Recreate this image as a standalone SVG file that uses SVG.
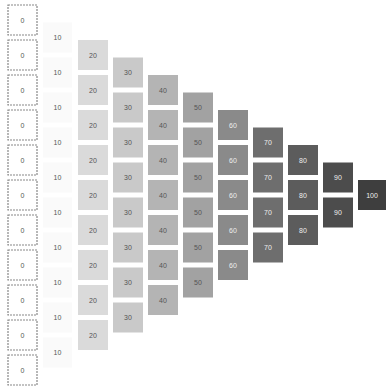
<svg xmlns="http://www.w3.org/2000/svg" width="386" height="390" viewBox="0 0 386 390">
<style>
.b{stroke:none}
.c0{fill:#fff;stroke:#888;stroke-width:1.2;stroke-dasharray:2 1}
.c1{fill:#fafafa}
.c2{fill:#dadada}
.c3{fill:#c9c9c9}
.c4{fill:#b4b4b4}
.c5{fill:#a2a2a2}
.c6{fill:#8a8a8a}
.c7{fill:#6e6e6e}
.c8{fill:#5c5c5c}
.c9{fill:#4c4c4c}
.c10{fill:#3e3e3e}
text{font-family:"Liberation Sans",Arial,sans-serif;font-size:7px;text-anchor:middle;dominant-baseline:central}
.d{fill:#555}
.l{fill:#eee}
</style>
<rect width="386" height="390" fill="#fff"/>
<g id="connectors"></g>
<g id="col0">
<g id="n0_0"><rect class="c0" x="8" y="5" width="29" height="30"/><text class="d" x="22.5" y="20">0</text></g>
<g id="n0_1"><rect class="c0" x="8" y="40" width="29" height="30"/><text class="d" x="22.5" y="55">0</text></g>
<g id="n0_2"><rect class="c0" x="8" y="75" width="29" height="30"/><text class="d" x="22.5" y="90">0</text></g>
<g id="n0_3"><rect class="c0" x="8" y="110" width="29" height="30"/><text class="d" x="22.5" y="125">0</text></g>
<g id="n0_4"><rect class="c0" x="8" y="145" width="29" height="30"/><text class="d" x="22.5" y="160">0</text></g>
<g id="n0_5"><rect class="c0" x="8" y="180" width="29" height="30"/><text class="d" x="22.5" y="195">0</text></g>
<g id="n0_6"><rect class="c0" x="8" y="215" width="29" height="30"/><text class="d" x="22.5" y="230">0</text></g>
<g id="n0_7"><rect class="c0" x="8" y="250" width="29" height="30"/><text class="d" x="22.5" y="265">0</text></g>
<g id="n0_8"><rect class="c0" x="8" y="285" width="29" height="30"/><text class="d" x="22.5" y="300">0</text></g>
<g id="n0_9"><rect class="c0" x="8" y="320" width="29" height="30"/><text class="d" x="22.5" y="335">0</text></g>
<g id="n0_10"><rect class="c0" x="8" y="355" width="29" height="30"/><text class="d" x="22.5" y="370">0</text></g>
</g>
<g id="col1">
<g id="n1_0"><rect class="c1" x="43" y="22.5" width="29" height="30"/><text class="d" x="57.5" y="37.5">10</text></g>
<g id="n1_1"><rect class="c1" x="43" y="57.5" width="29" height="30"/><text class="d" x="57.5" y="72.5">10</text></g>
<g id="n1_2"><rect class="c1" x="43" y="92.5" width="29" height="30"/><text class="d" x="57.5" y="107.5">10</text></g>
<g id="n1_3"><rect class="c1" x="43" y="127.5" width="29" height="30"/><text class="d" x="57.5" y="142.5">10</text></g>
<g id="n1_4"><rect class="c1" x="43" y="162.5" width="29" height="30"/><text class="d" x="57.5" y="177.5">10</text></g>
<g id="n1_5"><rect class="c1" x="43" y="197.5" width="29" height="30"/><text class="d" x="57.5" y="212.5">10</text></g>
<g id="n1_6"><rect class="c1" x="43" y="232.5" width="29" height="30"/><text class="d" x="57.5" y="247.5">10</text></g>
<g id="n1_7"><rect class="c1" x="43" y="267.5" width="29" height="30"/><text class="d" x="57.5" y="282.5">10</text></g>
<g id="n1_8"><rect class="c1" x="43" y="302.5" width="29" height="30"/><text class="d" x="57.5" y="317.5">10</text></g>
<g id="n1_9"><rect class="c1" x="43" y="337.5" width="29" height="30"/><text class="d" x="57.5" y="352.5">10</text></g>
</g>
<g id="col2">
<g id="n2_0"><rect class="c2" x="78" y="40" width="30" height="30"/><text class="d" x="93" y="55">20</text></g>
<g id="n2_1"><rect class="c2" x="78" y="75" width="30" height="30"/><text class="d" x="93" y="90">20</text></g>
<g id="n2_2"><rect class="c2" x="78" y="110" width="30" height="30"/><text class="d" x="93" y="125">20</text></g>
<g id="n2_3"><rect class="c2" x="78" y="145" width="30" height="30"/><text class="d" x="93" y="160">20</text></g>
<g id="n2_4"><rect class="c2" x="78" y="180" width="30" height="30"/><text class="d" x="93" y="195">20</text></g>
<g id="n2_5"><rect class="c2" x="78" y="215" width="30" height="30"/><text class="d" x="93" y="230">20</text></g>
<g id="n2_6"><rect class="c2" x="78" y="250" width="30" height="30"/><text class="d" x="93" y="265">20</text></g>
<g id="n2_7"><rect class="c2" x="78" y="285" width="30" height="30"/><text class="d" x="93" y="300">20</text></g>
<g id="n2_8"><rect class="c2" x="78" y="320" width="30" height="30"/><text class="d" x="93" y="335">20</text></g>
</g>
<g id="col3">
<g id="n3_0"><rect class="c3" x="113" y="57.5" width="30" height="30"/><text class="d" x="128" y="72.5">30</text></g>
<g id="n3_1"><rect class="c3" x="113" y="92.5" width="30" height="30"/><text class="d" x="128" y="107.5">30</text></g>
<g id="n3_2"><rect class="c3" x="113" y="127.5" width="30" height="30"/><text class="d" x="128" y="142.5">30</text></g>
<g id="n3_3"><rect class="c3" x="113" y="162.5" width="30" height="30"/><text class="d" x="128" y="177.5">30</text></g>
<g id="n3_4"><rect class="c3" x="113" y="197.5" width="30" height="30"/><text class="d" x="128" y="212.5">30</text></g>
<g id="n3_5"><rect class="c3" x="113" y="232.5" width="30" height="30"/><text class="d" x="128" y="247.5">30</text></g>
<g id="n3_6"><rect class="c3" x="113" y="267.5" width="30" height="30"/><text class="d" x="128" y="282.5">30</text></g>
<g id="n3_7"><rect class="c3" x="113" y="302.5" width="30" height="30"/><text class="d" x="128" y="317.5">30</text></g>
</g>
<g id="col4">
<g id="n4_0"><rect class="c4" x="148" y="75" width="30" height="30"/><text class="d" x="163" y="90">40</text></g>
<g id="n4_1"><rect class="c4" x="148" y="110" width="30" height="30"/><text class="d" x="163" y="125">40</text></g>
<g id="n4_2"><rect class="c4" x="148" y="145" width="30" height="30"/><text class="d" x="163" y="160">40</text></g>
<g id="n4_3"><rect class="c4" x="148" y="180" width="30" height="30"/><text class="d" x="163" y="195">40</text></g>
<g id="n4_4"><rect class="c4" x="148" y="215" width="30" height="30"/><text class="d" x="163" y="230">40</text></g>
<g id="n4_5"><rect class="c4" x="148" y="250" width="30" height="30"/><text class="d" x="163" y="265">40</text></g>
<g id="n4_6"><rect class="c4" x="148" y="285" width="30" height="30"/><text class="d" x="163" y="300">40</text></g>
</g>
<g id="col5">
<g id="n5_0"><rect class="c5" x="183" y="92.5" width="30" height="30"/><text class="d" x="198" y="107.5">50</text></g>
<g id="n5_1"><rect class="c5" x="183" y="127.5" width="30" height="30"/><text class="d" x="198" y="142.5">50</text></g>
<g id="n5_2"><rect class="c5" x="183" y="162.5" width="30" height="30"/><text class="d" x="198" y="177.5">50</text></g>
<g id="n5_3"><rect class="c5" x="183" y="197.5" width="30" height="30"/><text class="d" x="198" y="212.5">50</text></g>
<g id="n5_4"><rect class="c5" x="183" y="232.5" width="30" height="30"/><text class="d" x="198" y="247.5">50</text></g>
<g id="n5_5"><rect class="c5" x="183" y="267.5" width="30" height="30"/><text class="d" x="198" y="282.5">50</text></g>
</g>
<g id="col6">
<g id="n6_0"><rect class="c6" x="218" y="110" width="30" height="30"/><text class="l" x="233" y="125">60</text></g>
<g id="n6_1"><rect class="c6" x="218" y="145" width="30" height="30"/><text class="l" x="233" y="160">60</text></g>
<g id="n6_2"><rect class="c6" x="218" y="180" width="30" height="30"/><text class="l" x="233" y="195">60</text></g>
<g id="n6_3"><rect class="c6" x="218" y="215" width="30" height="30"/><text class="l" x="233" y="230">60</text></g>
<g id="n6_4"><rect class="c6" x="218" y="250" width="30" height="30"/><text class="l" x="233" y="265">60</text></g>
</g>
<g id="col7">
<g id="n7_0"><rect class="c7" x="253" y="127.5" width="30" height="30"/><text class="l" x="268" y="142.5">70</text></g>
<g id="n7_1"><rect class="c7" x="253" y="162.5" width="30" height="30"/><text class="l" x="268" y="177.5">70</text></g>
<g id="n7_2"><rect class="c7" x="253" y="197.5" width="30" height="30"/><text class="l" x="268" y="212.5">70</text></g>
<g id="n7_3"><rect class="c7" x="253" y="232.5" width="30" height="30"/><text class="l" x="268" y="247.5">70</text></g>
</g>
<g id="col8">
<g id="n8_0"><rect class="c8" x="288" y="145" width="30" height="30"/><text class="l" x="303" y="160">80</text></g>
<g id="n8_1"><rect class="c8" x="288" y="180" width="30" height="30"/><text class="l" x="303" y="195">80</text></g>
<g id="n8_2"><rect class="c8" x="288" y="215" width="30" height="30"/><text class="l" x="303" y="230">80</text></g>
</g>
<g id="col9">
<g id="n9_0"><rect class="c9" x="323" y="162.5" width="30" height="30"/><text class="l" x="338" y="177.5">90</text></g>
<g id="n9_1"><rect class="c9" x="323" y="197.5" width="30" height="30"/><text class="l" x="338" y="212.5">90</text></g>
</g>
<g id="col10">
<g id="n10_0"><rect class="c10" x="358" y="180" width="28" height="30"/><text class="l" x="372" y="195">100</text></g>
</g>
</svg>
